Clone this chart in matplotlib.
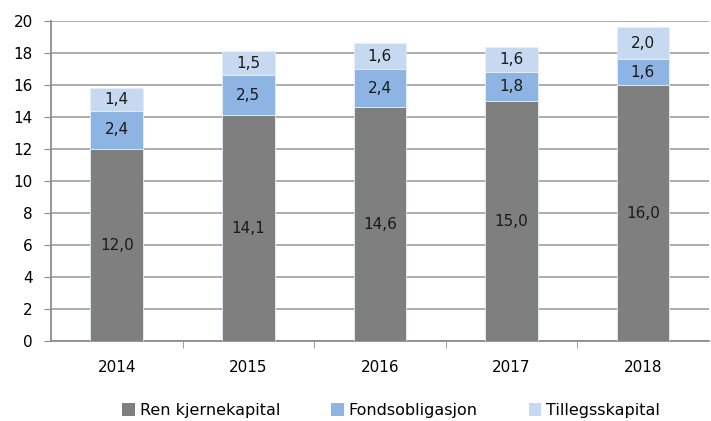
import matplotlib.pyplot as plt
from matplotlib.patches import Patch

years = ["2014", "2015", "2016", "2017", "2018"]
ren_kjerne = [12.0, 14.1, 14.6, 15.0, 16.0]
fondsobl = [2.4, 2.5, 2.4, 1.8, 1.6]
tillegg = [1.4, 1.5, 1.6, 1.6, 2.0]

series = [
    ("Ren kjernekapital", ren_kjerne, "#7f7f7f"),
    ("Fondsobligasjon", fondsobl, "#8eb4e3"),
    ("Tillegsskapital", tillegg, "#c6d9f1"),
]

fig = plt.figure(figsize=(7.11, 4.21), dpi=100)
ax = fig.add_axes([0.0717, 0.19, 0.925, 0.76])

x = list(range(len(years)))
bottom = [0.0] * len(years)
for name, vals, col in series:
    ax.bar(x, vals, width=0.4, bottom=bottom, color=col,
           edgecolor="#e8eef7", linewidth=0.6, zorder=3)
    for xi, b, v in zip(x, bottom, vals):
        ax.text(xi, b + v / 2, f"{v:.1f}".replace(".", ","), ha="center",
                va="center", fontsize=11, color="#1a1a1a", zorder=4)
    bottom = [b + v for b, v in zip(bottom, vals)]

ax.set_xlim(-0.5, len(years) - 0.5)
ax.set_ylim(0, 20)
ax.set_yticks(range(0, 21, 2))
ax.set_xticks(x)
ax.set_xticklabels(years)
ax.set_xticks([i + 0.5 for i in x[:-1]], minor=True)
ax.tick_params(axis="x", which="major", length=0, pad=14, labelsize=11)
ax.tick_params(axis="x", which="minor", length=5, color="#8c8c8c")
ax.tick_params(axis="y", length=5, color="#8c8c8c", labelsize=11, pad=8)
ax.grid(axis="y", color="#a6a6a6", linewidth=1.3, zorder=0)

for s in ["top", "right"]:
    ax.spines[s].set_visible(False)
for s in ["left", "bottom"]:
    ax.spines[s].set_color("#8c8c8c")
    ax.spines[s].set_linewidth(1.3)

handles = [Patch(facecolor=c, label=n) for n, _, c in series]
fig.legend(handles=handles, loc="center", bbox_to_anchor=(0.55, 0.025),
           ncol=3, frameon=False, fontsize=11.5, handlelength=0.8,
           handleheight=0.8, handletextpad=0.3, columnspacing=3.2)

fig.savefig("out.png", dpi=100)
